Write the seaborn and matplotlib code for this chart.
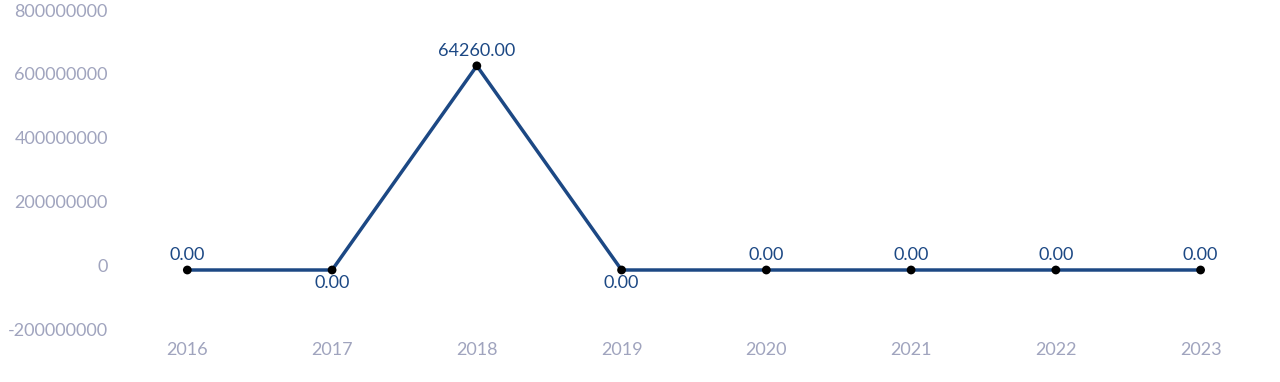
import pandas as pd
import matplotlib.pyplot as plt
import seaborn as sns

# dados
anos = ['2016', '2017', '2018', '2019', '2020', '2021', '2022', '2023']
valores = [-15000000, -15000000, 625000000, -15000000, -15000000, -15000000, -15000000, -15000000]
rotulos = ['0.00', '0.00', '64260.00', '0.00', '0.00', '0.00', '0.00', '0.00']
rotulo_abaixo = [False, True, False, True, False, False, False, False]
y_ticks = [-200000000, 0, 200000000, 400000000, 600000000, 800000000]

df = pd.DataFrame({'Ano': anos, 'Valor': valores})
df['pos'] = range(len(df))

sns.set_style("white")
plt.rcParams['font.family'] = ['Lato', 'DejaVu Sans']

cor_linha = '#1c4884'
cor_eixo = '#a0a4be'

fig = plt.figure(figsize=(12.8, 3.82), dpi=100)
ax = fig.add_axes([0.0898, 0.1387, 0.9047, 0.8351])

sns.lineplot(data=df, x='pos', y='Valor', ax=ax, color=cor_linha, linewidth=2.5, zorder=2)
sns.scatterplot(data=df, x='pos', y='Valor', ax=ax, color='black', s=40, zorder=3, edgecolor='none')

for i, (v, txt) in enumerate(zip(valores, rotulos)):
    dy = -15 if rotulo_abaixo[i] else 5
    ax.annotate(txt, (i, v), xytext=(0, dy), textcoords='offset points',
                ha='center', va='bottom', fontsize=13, color=cor_linha)

ax.set_xlim(-0.5, len(anos) - 0.5)
ax.set_ylim(-200000000, 800000000)
ax.set_xticks(range(len(anos)))
ax.set_xticklabels(anos)
ax.set_yticks(y_ticks)
ax.set_yticklabels([str(t) for t in y_ticks])
ax.tick_params(axis='both', length=0, labelsize=13, labelcolor=cor_eixo)
ax.tick_params(axis='x', pad=9)
ax.tick_params(axis='y', pad=5)
ax.set_xlabel('')
ax.set_ylabel('')
for s in ax.spines.values():
    s.set_visible(False)
ax.patch.set_alpha(0)

fig.savefig('out.png', dpi=100)
